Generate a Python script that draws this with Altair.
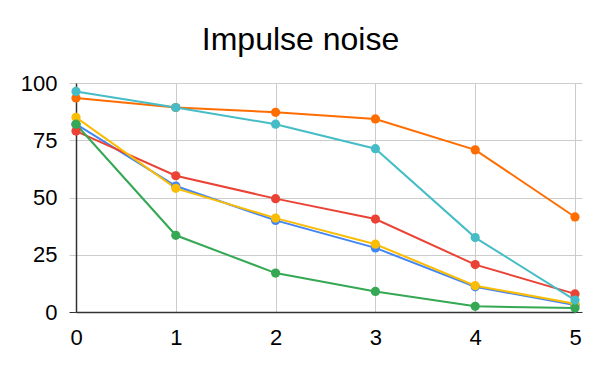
import altair as alt
import pandas as pd

x_vals = [0, 1, 2, 3, 4, 5]
y_ticks = [0, 25, 50, 75, 100]
series_names = ["S1", "S2", "S3", "S4", "S5", "S6"]
colors = ["#4285F4", "#EA4335", "#FBBC04", "#34A853", "#FF6D01", "#46BDC6"]
s1 = [82, 55, 40, 28, 11, 3]
s2 = [79, 59.5, 49.5, 40.6, 20.7, 7.9]
s3 = [85, 54, 41, 29.6, 11.5, 3.6]
s4 = [82, 33.5, 17, 9, 2.5, 1.7]
s5 = [93.5, 89.3, 87.2, 84.3, 70.8, 41.5]
s6 = [96.3, 89.3, 82, 71.3, 32.5, 5.2]

rows = []
for i, (name, vals) in enumerate(zip(series_names, [s1, s2, s3, s4, s5, s6])):
    for x, v in zip(x_vals, vals):
        rows.append({"x": x, "value": v, "series": name, "ord": i})
df = pd.DataFrame(rows)

FONT = "Liberation Sans"
tick_color = alt.ExprRef("datum.value == 0 ? '#333333' : '#cccccc'")

x_enc = alt.X("x:Q", scale=alt.Scale(domain=[0, 5], nice=False),
              axis=alt.Axis(values=x_vals, title=None, format="d", grid=True,
                            gridColor="#cccccc", domainColor="#333333", domainWidth=1.5,
                            ticks=False, labelFontSize=22, labelFont=FONT, labelColor="#000000",
                            labelPadding=15, labelFlush=False))
y_left = alt.Y("value:Q", scale=alt.Scale(domain=[0, 100], nice=False),
               axis=alt.Axis(values=y_ticks, title=None, grid=True, orient="left",
                             gridColor="#cccccc", domain=True, domainColor="#333333", domainWidth=1.5,
                             ticks=True, tickSize=7, tickColor=tick_color, tickWidth=1,
                             labelFontSize=22, labelFont=FONT, labelColor="#000000",
                             labelPadding=12, labelFlush=False))
y_right = alt.Y("value:Q", scale=alt.Scale(domain=[0, 100], nice=False),
                axis=alt.Axis(values=y_ticks, title=None, grid=False, orient="right",
                              domain=False, labels=False,
                              ticks=True, tickSize=7, tickColor=tick_color, tickWidth=1))
color_enc = alt.Color("series:N", scale=alt.Scale(domain=series_names, range=colors), legend=None)

base = alt.Chart(df)
lines = base.mark_line(strokeWidth=2).encode(x=x_enc, y=y_left, color=color_enc,
                                             order=alt.Order("ord:Q"))
points = base.mark_circle(size=85, opacity=1).encode(x=x_enc, y=y_right, color=color_enc,
                                                     order=alt.Order("ord:Q"))

chart = alt.layer(lines, points).resolve_axis(y="independent").properties(
    width=499, height=229,
    title=alt.TitleParams("Impulse noise", fontSize=32, font=FONT, fontWeight="normal",
                          color="#000000", anchor="middle", offset=15, dx=-25),
    autosize=alt.AutoSizeParams(type="none"),
    padding={"left": 68, "top": 75, "right": 17, "bottom": 51},
).configure_view(stroke=None)

chart.save("out.html", embed_options={"renderer": "svg", "actions": False})
